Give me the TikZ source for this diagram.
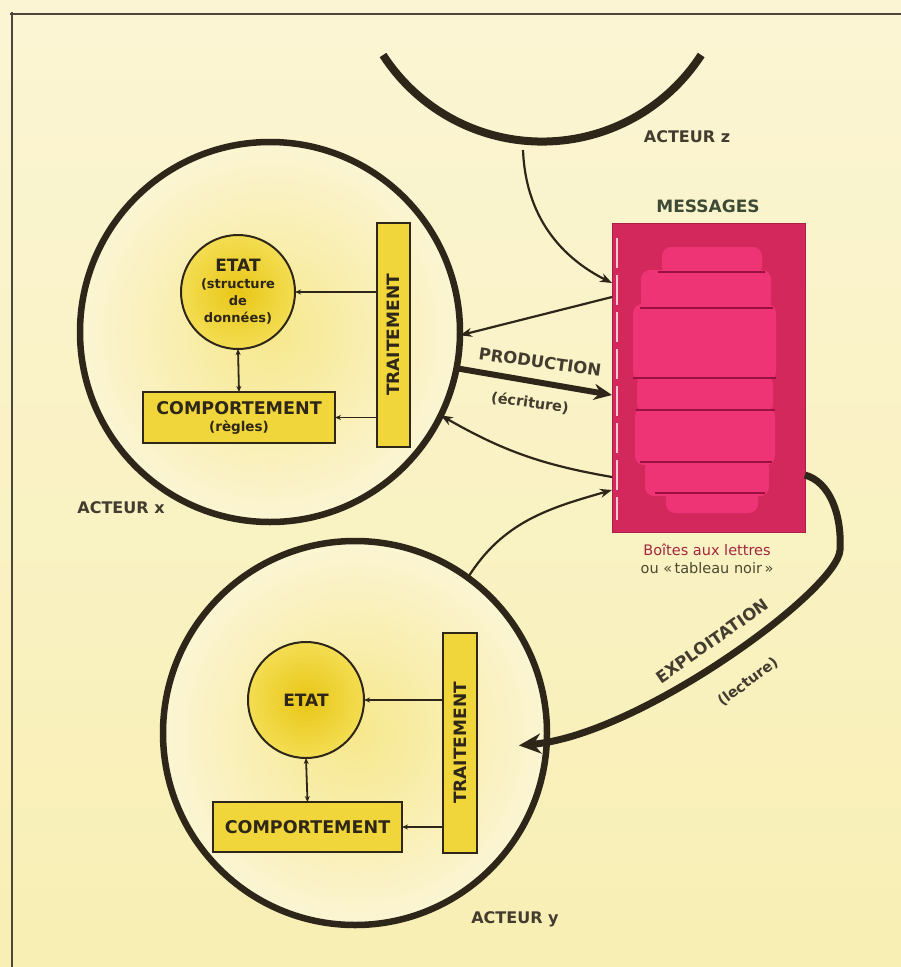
\documentclass[tikz,border=0pt]{standalone}
\usepackage{fontspec}
\usepackage{graphicx}
\setmainfont{DejaVu Sans}
\usetikzlibrary{arrows.meta,shapes.geometric,calc}

\definecolor{ink}{HTML}{2E2618}
\definecolor{paper}{HTML}{F8EFB4}
\definecolor{paperlight}{HTML}{FBF5D4}
\definecolor{gold}{HTML}{E9C616}
\definecolor{goldlight}{HTML}{F3DD52}
\definecolor{boxyellow}{HTML}{F0D63A}
\definecolor{crimson}{HTML}{D3285C}
\definecolor{pinkslab}{HTML}{EE3474}
\definecolor{slabline}{HTML}{9A1040}
\definecolor{msggreen}{HTML}{3D4A35}
\definecolor{capred}{HTML}{A4263F}
\definecolor{capolive}{HTML}{4A4A30}

\begin{document}
\begin{tikzpicture}[x=1pt,y=1pt,
  frameline/.style={draw=ink!85, line width=2pt},
  actorring/.style={circle, draw=ink, line width=6.5pt, inner sep=0pt, outer sep=0pt,
    inner color=goldlight!55!paperlight, outer color=paperlight},
  etatnode/.style={circle, draw=ink, line width=2pt, inner sep=0pt, outer sep=0pt,
    inner color=gold, outer color=goldlight, align=center, text=ink},
  rulebox/.style={rectangle, draw=ink, line width=2pt, inner sep=0pt, outer sep=0pt,
    fill=boxyellow, align=center, text=ink},
  actlabel/.style={font=\fontsize{16}{19}\selectfont\bfseries, text=ink!90},
  flowlabel/.style={font=\fontsize{16.5}{19}\selectfont\bfseries, text=ink!90},
  sublabel/.style={font=\fontsize{14.5}{17}\selectfont\bfseries, text=ink!90},
  slab/.style={fill=pinkslab, rounded corners=9pt},
  thinarrow/.style={draw=ink, line width=2.2pt, -{Stealth[length=12pt,width=9pt]}},
  innerarrow/.style={draw=ink, line width=1.8pt, -{Stealth[length=6pt,width=5pt]}},
  heavyarrow/.style={draw=ink, line width=6pt, -{Stealth[length=18pt,width=16pt]}},
]
\useasboundingbox (0,0) rectangle (901,-967);

% paper
\shade[top color=paperlight, bottom color=paper] (0,0) rectangle (901,-967);
\fill[paperlight] (0,0) rectangle (901,-14);

% page frame
\draw[frameline] (10,-14) -- (901,-14);
\draw[frameline] (12,-12) -- (12,-967);

% actor z: arc at the top
\draw[draw=ink, line width=8pt] (383,-55) arc[start angle=212.9, end angle=327.1, radius=189.5];
\coordinate (actzfoot) at (523,-150);
\node[actlabel] (labz) at (687,-137) {ACTEUR z};

% actor x and actor y
\node[actorring, minimum size=380pt] (actx) at (270,-332) {};
\node[actorring, minimum size=384pt] (acty) at (355,-733) {};
\node[actlabel] (labx) at (121,-508) {ACTEUR x};
\node[actlabel] (laby) at (515,-919) {ACTEUR y};

% inside actor x
\node[etatnode, minimum size=114pt, font=\fontsize{13}{17}\selectfont\bfseries] (etatx) at (238,-292)
  {{\fontsize{17}{17}\selectfont ETAT}\\(structure\\de\\données)};
\node[rulebox, minimum width=192pt, minimum height=51pt, font=\fontsize{13.5}{17}\selectfont\bfseries] (compx) at (239,-417.5)
  {{\fontsize{17.5}{18}\selectfont COMPORTEMENT}\\(règles)};
\node[rulebox, minimum width=33pt, minimum height=224pt, font=\fontsize{17}{17}\selectfont\bfseries] (traitx) at (393.5,-335)
  {\rotatebox{90}{TRAITEMENT}};
\draw[innerarrow] (traitx.west |- etatx.east) -- (etatx.east);
\draw[innerarrow] (traitx.west |- compx.east) -- (compx.east);
\draw[innerarrow, {Stealth[length=6pt,width=5pt]}-{Stealth[length=6pt,width=5pt]}] (etatx.south) -- (compx.north);

% inside actor y
\node[etatnode, minimum size=116pt, font=\fontsize{17}{17}\selectfont\bfseries] (etaty) at (306,-700) {ETAT};
\node[rulebox, minimum width=189pt, minimum height=50pt, font=\fontsize{17.5}{18}\selectfont\bfseries] (compy) at (307.5,-827)
  {COMPORTEMENT};
\node[rulebox, minimum width=34pt, minimum height=220pt, font=\fontsize{17}{17}\selectfont\bfseries] (traity) at (460,-743)
  {\rotatebox{90}{TRAITEMENT}};
\draw[innerarrow] (traity.west |- etaty.east) -- (etaty.east);
\draw[innerarrow] (traity.west |- compy.east) -- (compy.east);
\draw[innerarrow, {Stealth[length=6pt,width=5pt]}-{Stealth[length=6pt,width=5pt]}] (etaty.south) -- (compy.north);

% message board: a stack of letter slots
\node[font=\fontsize{17}{19}\selectfont\bfseries, text=msggreen] (msglabel) at (708,-206) {MESSAGES};
\node[rectangle, minimum width=193pt, minimum height=309pt, inner sep=0pt, outer sep=0pt,
      fill=crimson, draw=crimson!80!black, line width=1pt] (msg) at (708.5,-377.5) {};
\fill[slab] (662,-247) rectangle (762,-275);
\fill[slab] (641,-270) rectangle (771,-311);
\fill[slab] (633,-304) rectangle (776,-381);
\fill[slab] (637,-375) rectangle (773,-413);
\fill[slab] (635,-407) rectangle (775,-465);
\fill[slab] (645,-459) rectangle (769,-496);
\fill[slab] (666,-490) rectangle (758,-513);
\draw[slabline, line width=2.8pt] (658,-272) -- (765,-272);
\draw[slabline, line width=2.8pt] (640,-308) -- (773,-308);
\draw[slabline, line width=2.8pt] (633,-378) -- (776,-378);
\draw[slabline, line width=2.8pt] (636,-410) -- (775,-410);
\draw[slabline, line width=2.8pt] (640,-462) -- (772,-462);
\draw[slabline, line width=2.8pt] (655,-493) -- (765,-493);
\draw[white!75!crimson, line width=1.2pt, dash pattern=on 30pt off 7pt] (617,-238) -- (617,-520);
\node[font=\fontsize{14.5}{18}\selectfont, align=center] (caption) at (707,-559)
  {\textcolor{capred}{Boîtes aux lettres}\\\textcolor{capolive}{ou «\,tableau noir\,»}};

% exchanges with the board
\draw[thinarrow] (actzfoot) .. controls (526,-225) and (570,-262) .. ([yshift=-60pt]msg.north west);
\draw[thinarrow] ([yshift=-74pt]msg.north west) -- (actx.-1);
\draw[heavyarrow] (actx.-11) -- ([yshift=-172pt]msg.north west);
\node[flowlabel, rotate=-8] (prodlabel) at (540,-362) {PRODUCTION};
\node[sublabel, rotate=-8] (ecrlabel) at (530,-403) {(écriture)};
\draw[thinarrow] ([yshift=-254pt]msg.north west) to[bend left=10] (actx.-26);
\draw[thinarrow] (acty.54) to[out=58,in=196] ([yshift=-267pt]msg.north west);

% reading by actor y
\draw[draw=ink, line width=7pt, -{Stealth[length=22pt,width=20pt]}, shorten >=-28pt]
  ([yshift=-252pt]msg.north east) .. controls (830,-482) and (842,-515) .. (840,-550)
  .. controls (838,-590) and (640,-735) .. (acty.-3);
\node[flowlabel, rotate=35] (explabel) at (712,-641) {EXPLOITATION};
\node[sublabel, rotate=37] (leclabel) at (748,-682) {(lecture)};
\end{tikzpicture}
\end{document}
